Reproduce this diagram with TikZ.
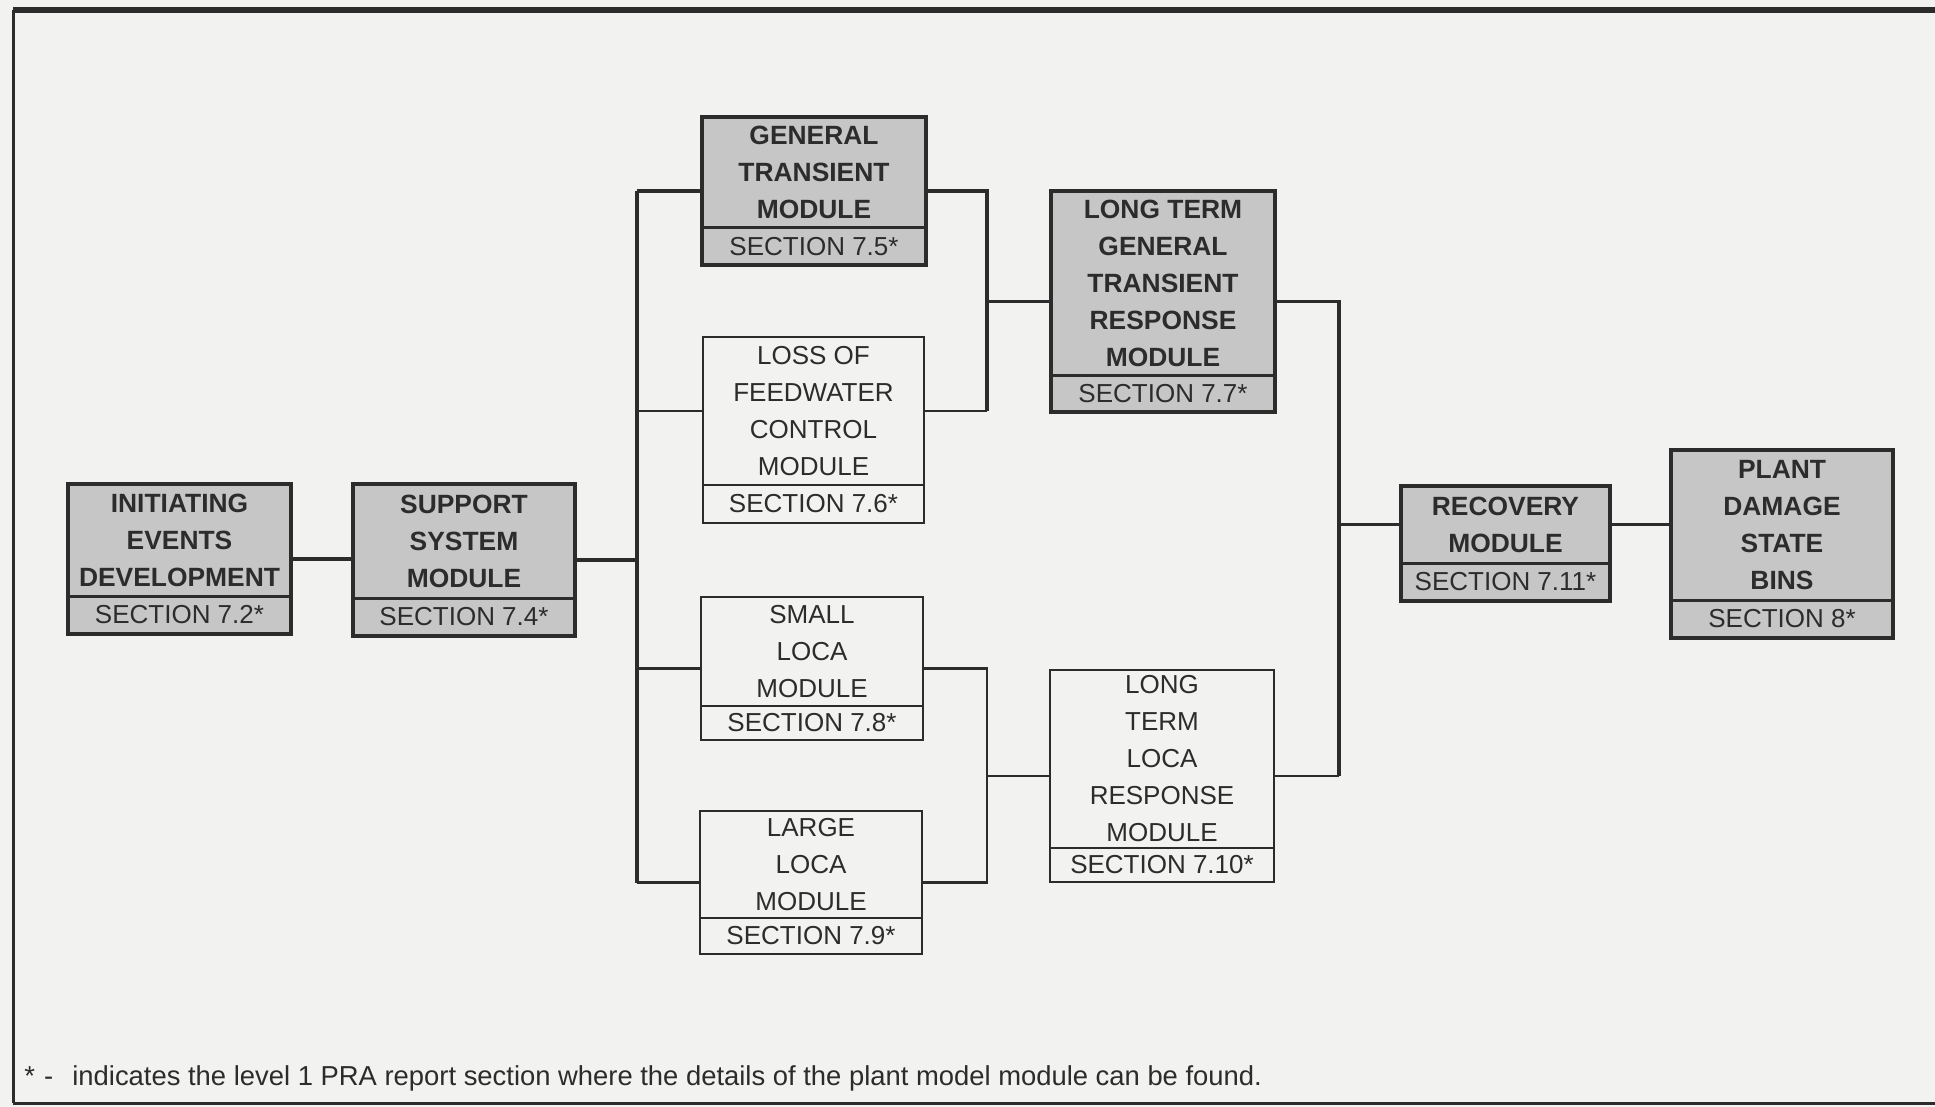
\documentclass[tikz,border=0pt]{standalone}
\usepackage{fontspec}
\setmainfont{Liberation Sans}
\usetikzlibrary{fit}

\definecolor{paper}{HTML}{F2F2F0}
\definecolor{boxgray}{HTML}{C6C6C6}
\definecolor{ink}{HTML}{2C2C2C}

\tikzset{
  % shaded module boxes
  gray box/.style={draw=ink, fill=boxgray, line width=2pt, inner sep=0pt, outer sep=0pt},
  gray rule/.style={draw=ink, line width=1.5pt},
  gray title/.style={text=ink, align=center, inner sep=0pt,
    font=\bfseries\fontsize{13.2}{18.5}\selectfont},
  % plain module boxes
  white box/.style={draw=ink, fill=paper, line width=1.2pt, inner sep=0pt, outer sep=0pt},
  white rule/.style={draw=ink, line width=1.1pt},
  white title/.style={text=ink, align=center, inner sep=0pt,
    font=\fontsize{13}{18.5}\selectfont},
  section text/.style={text=ink, inner sep=0pt, font=\fontsize{13}{15}\selectfont},
  heavy/.style={draw=ink, line width=1.7pt},
  light/.style={draw=ink, line width=1.2pt},
  frame/.style={draw=ink},
  note/.style={text=ink, inner sep=0pt, anchor=base west, font=\fontsize{13.7}{16}\selectfont},
}

% #1 name, #2 gray/white, #3 left, #4 top, #5 right, #6 bottom, #7 divider, #8 title, #9 section
\newcommand\modbox[9]{%
  \node[#2 box, fit={(#3,#4) (#5,#6)}] (#1) {};
  \draw[#2 rule] (#3,#7) -- (#5,#7);
  \node[#2 title] (#1-t) at ({(#3+#5)/2},{(#4+#7)/2}) {#8};
  \node[section text] (#1-s) at ({(#3+#5)/2},{(#7+#6)/2}) {#9};
}

\begin{document}
\begin{tikzpicture}[x=0.5pt, y=-0.5pt]
  \useasboundingbox (0,0) rectangle (1935,1107);
  \fill[paper] (0,0) rectangle (1935,1107);

  % outer frame
  \draw[frame, line width=2.6pt] (13,10) -- (1935,10);
  \draw[frame, line width=1.5pt] (13,10) -- (13,1103);
  \draw[frame, line width=1.5pt] (13,1103) -- (1935,1103);

  % bus lines
  \coordinate (bl) at (637,0);
  \coordinate (bm) at (987,0);
  \coordinate (br) at (1339,0);

  % modules
  \modbox{ie}{gray}{68}{484}{291}{634}{596}{INITIATING\\EVENTS\\DEVELOPMENT}{SECTION 7.2*}
  \modbox{ss}{gray}{353}{484}{575}{636}{598}{SUPPORT\\SYSTEM\\MODULE}{SECTION 7.4*}
  \modbox{gt}{gray}{702}{117}{926}{265}{228}{GENERAL\\TRANSIENT\\MODULE}{SECTION 7.5*}
  \modbox{lf}{white}{703}{337}{924}{523}{485}{LOSS OF\\FEEDWATER\\CONTROL\\MODULE}{SECTION 7.6*}
  \modbox{sl}{white}{701}{597}{923}{740}{706}{SMALL\\LOCA\\MODULE}{SECTION 7.8*}
  \modbox{la}{white}{700}{811}{922}{954}{918}{LARGE\\LOCA\\MODULE}{SECTION 7.9*}
  \modbox{ltgt}{gray}{1051}{191}{1275}{412}{376}{LONG TERM\\GENERAL\\TRANSIENT\\RESPONSE\\MODULE}{SECTION 7.7*}
  \modbox{ltl}{white}{1050}{670}{1274}{882}{848}{LONG\\TERM\\LOCA\\RESPONSE\\MODULE}{SECTION 7.10*}
  \modbox{rec}{gray}{1401}{486}{1610}{601}{563}{RECOVERY\\MODULE}{SECTION 7.11*}
  \modbox{pl}{gray}{1671}{450}{1893}{638}{600}{PLANT\\DAMAGE\\STATE\\BINS}{SECTION 8*}

  % initiating events to support systems to the left bus
  \draw[heavy] (ie.east) -- (ie.east -| ss.west);
  \draw[heavy] (ss.east) -- (ss.east -| bl);
  \draw[heavy] (gt.west -| bl) -- (la.west -| bl);
  \draw[heavy] (gt.west) -- (gt.west -| bl);
  \draw[light] (lf.west |- lf-t) -- (lf-t -| bl);
  \draw[light] (sl.west) -- (sl.west -| bl);
  \draw[light] (la.west) -- (la.west -| bl);

  % transient branch
  \draw[heavy] (gt.east) -- (gt.east -| bm) -- (lf-t -| bm);
  \draw[light] (lf-t -| bm) -- (lf.east |- lf-t);
  \draw[heavy] (ltgt.west -| bm) -- (ltgt.west);

  % LOCA branch
  \draw[light] (sl.east) -- (sl.east -| bm) -- (la.east -| bm) -- (la.east);
  \draw[light] (ltl.west -| bm) -- (ltl.west);

  % long term responses to recovery and plant damage states
  \draw[heavy] (ltgt.east) -- (ltgt.east -| br) -- (ltl.east -| br);
  \draw[light] (ltl.east -| br) -- (ltl.east);
  \draw[heavy] (rec.west |- rec-t) -- (rec-t -| br);
  \draw[heavy] (rec.east |- rec-t) -- (pl.west |- rec-t);

  % footnote
  \node[note] (fn-mark) at (24,1085) {*\,\,-};
  \node[note] (fn-text) at (72,1085) {indicates the level 1 PRA report section where the details of the plant model module can be found.};
\end{tikzpicture}
\end{document}
